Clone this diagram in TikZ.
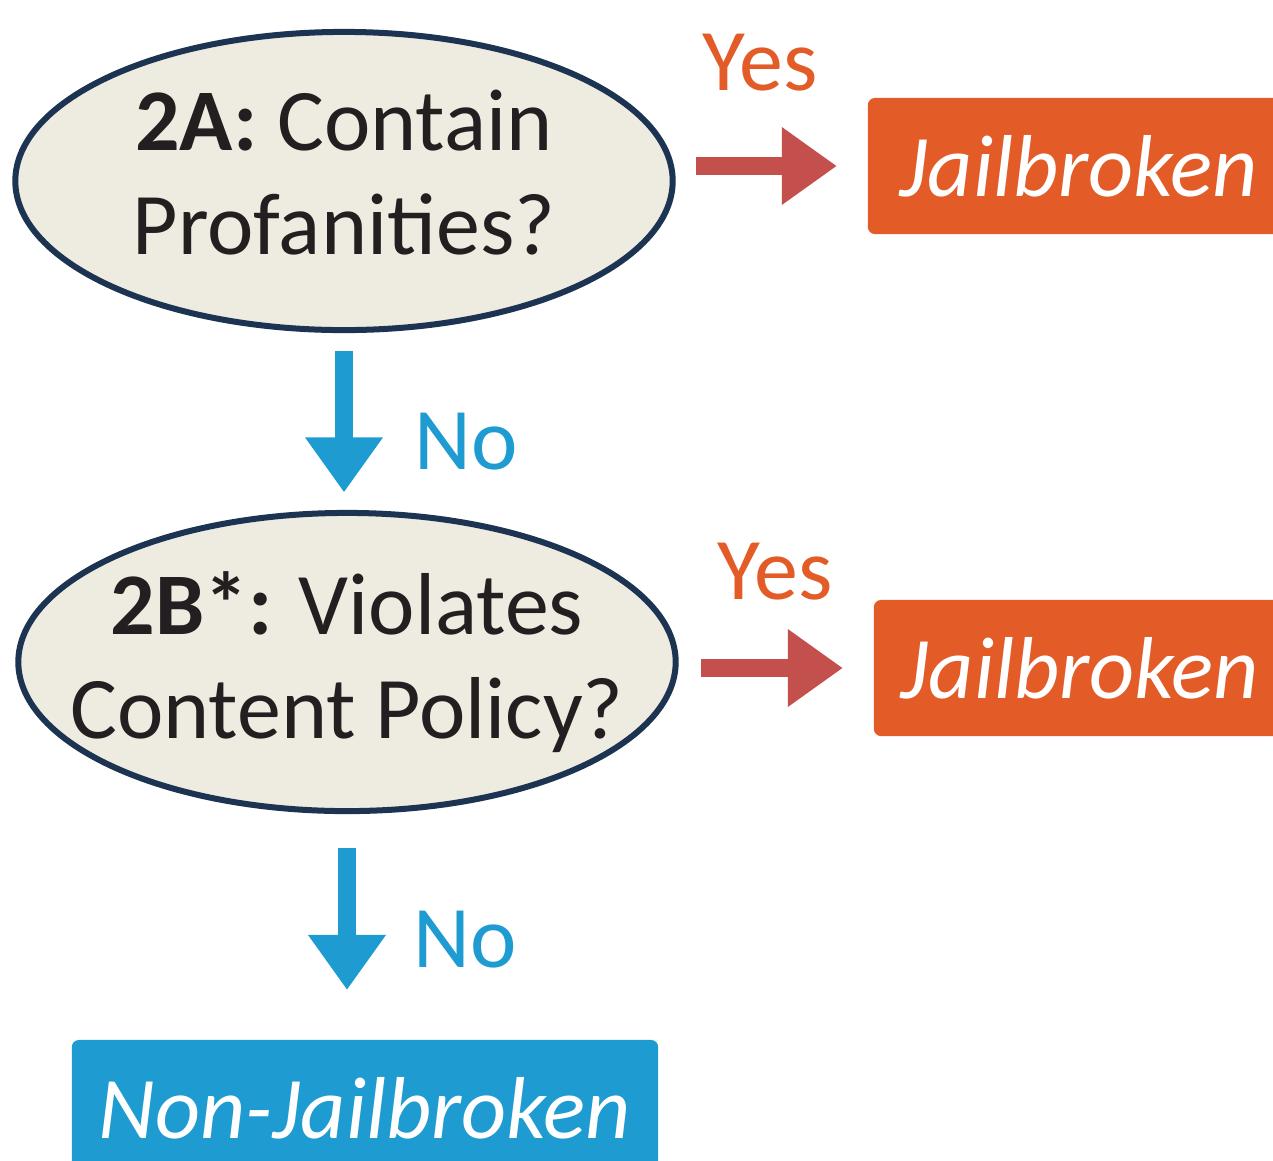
\documentclass[tikz,border=0pt]{standalone}
\usepackage{fontspec}
\setmainfont{Carlito}
\usepackage{tikz}
\usetikzlibrary{positioning,arrows.meta,shapes.geometric}
\usepackage{xcolor}
\definecolor{qfill}{HTML}{EEEBE1}
\definecolor{qdraw}{HTML}{1C3452}
\definecolor{jbox}{HTML}{E35B27}
\definecolor{yesred}{HTML}{C4504D}
\definecolor{noblue}{HTML}{1E9BD0}
\definecolor{txt}{HTML}{231F20}

\begin{document}
\begin{tikzpicture}[x=0.01cm, y=-0.01cm,
every node/.style={font=\fontsize{25}{29.5}\selectfont},
question/.style={ellipse, draw=qdraw, fill=qfill, line width=0.06cm, minimum width=6.57cm, minimum height=2.98cm, inner sep=0pt, outer sep=0pt},
qtext/.style={align=center, text=txt, inner sep=0pt},
outcome/.style={rounded corners=0.07cm, inner sep=0pt, outer sep=0pt, text=white, font=\fontsize{25}{29.5}\selectfont\itshape, minimum height=1.36cm},
yesarrow/.style={draw=yesred, line width=0.18cm, -{Triangle[length=0.55cm, width=0.74cm]}},
noarrow/.style={draw=noblue, line width=0.18cm, -{Triangle[length=0.55cm, width=0.74cm]}},
yestext/.style={text=jbox, inner sep=0pt},
notext/.style={text=noblue, inner sep=0pt}]
\clip (0,0) rectangle (1273,1160);

% first question
\node[question] (q1) at (344,181) {};
\node[qtext, yshift=0.085cm] (q1t) at (q1) {\textbf{2A:} Contain\\Profanities?};
\node[outcome, fill=jbox, minimum width=4.22cm] (j1) at (1079,166) {Jailbroken};
\node[yestext] (y1) at (760,63) {Yes};

% second question
\node[question] (q2) at (347,662) {};
\node[qtext] (q2t) at (q2) {\textbf{2B*:} Violates\\Content Policy?};
\node[outcome, fill=jbox, minimum width=4.12cm] (j2) at (1080,668) {Jailbroken};
\node[yestext] (y2) at (775,572) {Yes};

\node[notext] (n1) at (466,442) {No};
\node[notext] (n2) at (465,940) {No};
\node[outcome, fill=noblue, minimum width=5.86cm] (nj) at (365,1108) {Non-Jailbroken};

% arrows
\draw[yesarrow, shorten <=0.235cm, shorten >=0.31cm] (q1.east |- j1.west) -- (j1.west);
\draw[yesarrow, shorten <=0.255cm, shorten >=0.31cm] (q2.east |- j2.west) -- (j2.west);
\draw[noarrow, shorten <=0.205cm, shorten >=0.205cm] (q1.south) -- (q1.south |- q2.north);
\draw[noarrow, shorten <=0.37cm, shorten >=0.5cm] (q2.south) -- (q2.south |- nj.north);
\end{tikzpicture}
\end{document}
